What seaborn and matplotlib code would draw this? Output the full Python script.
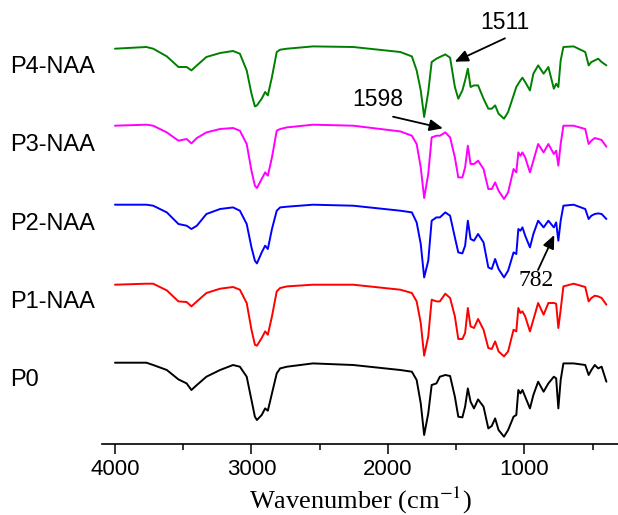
import matplotlib
matplotlib.use("Agg")
import matplotlib.pyplot as plt
import pandas as pd
import seaborn as sns

# FTIR spectra (transmittance, a.u.) on a shared wavenumber grid (cm^-1)
wavenumber = [4000, 3770, 3720, 3620, 3535, 3475, 3440, 3400, 3330, 3230,
              3135, 3085, 3035, 3000, 2975, 2960, 2925, 2900, 2880, 2850,
              2815, 2790, 2740, 2550, 2255, 1910, 1825, 1790, 1760, 1735,
              1705, 1680, 1645, 1620, 1580, 1545, 1510, 1485, 1455, 1435,
              1415, 1395, 1370, 1340, 1300, 1265, 1240, 1215, 1190, 1150,
              1120, 1080, 1060, 1045, 1030, 1015, 995, 960, 935, 900,
              860, 825, 785, 768, 752, 735, 715, 640, 555, 530,
              510, 485, 460, 435, 400]

t_p0 = [100, 100, 97.7, 92.7, 83.3, 79.3, 72.7, 77.7, 86, 92.7,
        97.7, 96, 86, 62.7, 46, 42.7, 47.7, 54.3, 52, 69.3,
        89.3, 94.3, 96, 99.3, 97.7, 92.7, 91, 82.7, 59.3, 27.7,
        49.3, 77.7, 79.3, 86, 87.7, 86.7, 66, 46, 45.3, 56,
        74.3, 61, 54.3, 63.3, 56, 34.3, 36.7, 44.3, 32.7, 26,
        32.7, 46, 47.7, 72.7, 69.3, 72.7, 66, 54.3, 67.7, 81,
        71, 79.3, 86, 84.3, 54.3, 82.7, 99.3, 99.3, 97.7, 87.7,
        92.7, 97.7, 94.3, 96, 81]

t_p1 = [100, 101, 101, 94.3, 83.3, 82.7, 78.3, 83.3, 91.7, 96,
        97.7, 95, 81.7, 55, 40, 39, 46.7, 53.3, 50, 68.3,
        93.3, 96.7, 98.3, 100, 100, 95, 91.7, 83.3, 61.7, 29,
        48.3, 85, 83.3, 83.3, 91, 86.7, 68.3, 45.7, 45.7, 51.7,
        76.7, 58.3, 56.7, 65.7, 55, 36.7, 35.7, 43.3, 33.3, 28.3,
        33.3, 55, 53.3, 76.7, 71.7, 73.3, 68.3, 53.3, 65, 81.7,
        70, 81.7, 81.7, 81, 56.7, 75, 98.3, 101, 97.7, 83.3,
        86.7, 89, 88.3, 86.7, 80]

t_p2 = [100, 100, 99, 92.3, 80.7, 79, 75.7, 79, 90.7, 95.7,
        97.3, 94, 80.7, 57.3, 44, 41.3, 52.3, 59, 55.7, 75.7,
        94, 97.3, 98, 100, 99, 94, 92.3, 82.3, 60.7, 27.3,
        44, 84, 87.3, 87.3, 92.3, 89, 67.3, 52.3, 51.3, 59,
        84, 65.7, 64, 70.7, 62.3, 37.3, 35.7, 45.7, 35.7, 27.3,
        34, 52.3, 50.7, 75.7, 74, 77.3, 69, 57.3, 70.7, 84,
        77.3, 84, 77.3, 82.3, 64, 84, 99, 100, 95.7, 85.7,
        89, 90.7, 91.3, 90.7, 85.7]

t_p3 = [100, 101, 100, 93.3, 85, 86.7, 82.3, 87.7, 93.3, 96.7,
        97.7, 95, 81.7, 55, 40, 37.7, 46.7, 53.3, 50, 68.3,
        95, 96.7, 98.3, 101, 100, 94.3, 90, 81.7, 58.3, 27.7,
        51.7, 88.3, 90, 90, 93.3, 88.3, 68.3, 48.3, 48.3, 58.3,
        80, 61.7, 61.7, 65, 56.7, 36.7, 36.7, 43.3, 35, 26.7,
        33.3, 56.7, 53.3, 73.3, 70, 73.3, 68.3, 53.3, 65, 81.7,
        73.3, 81.7, 71.7, 75, 60, 81.7, 100, 100, 96.7, 81.7,
        85, 87.7, 86.7, 85.7, 79]

t_p4 = [100, 101.7, 100, 92.3, 81.7, 81.7, 78.3, 83.3, 91.7, 95.7,
        97.7, 95, 78.3, 55, 42.3, 43.3, 50, 56.7, 53.3, 71.7,
        96.7, 99, 100, 102.3, 101.7, 96.7, 92.3, 78.3, 58.3, 31.7,
        56.7, 86.7, 90, 91.7, 94.3, 91, 61.7, 50, 58.3, 68.3,
        80, 61.7, 63.3, 63.3, 50, 40, 40, 43.3, 35, 30,
        36.7, 53.3, 61.7, 65, 68.3, 71, 66.7, 58.3, 75, 83.3,
        75, 81.7, 60, 65, 61.7, 88.3, 101.7, 102.3, 96.7, 83.3,
        86.7, 88.3, 90, 86.7, 83.3]

samples = ["P0", "P1-NAA", "P2-NAA", "P3-NAA", "P4-NAA"]
spectra = [t_p0, t_p1, t_p2, t_p3, t_p4]
colors = ["#000000", "#ff0000", "#0000ff", "#ff00ff", "#008000"]
stack_offsets = [0, 78, 158, 237, 314]

frames = []
for name, t, off in zip(samples, spectra, stack_offsets):
    frames.append(pd.DataFrame({"wavenumber": wavenumber, "T": t,
                                "sample": name, "shifted": [v + off for v in t]}))
df = pd.concat(frames, ignore_index=True)

sns.set_theme(style="ticks")
plt.rcParams["font.family"] = ["Liberation Sans", "DejaVu Sans"]
plt.rcParams["mathtext.fontset"] = "stix"
plt.rcParams["text.color"] = "black"

W, H = 618, 515
fig = plt.figure(figsize=(W / 100, H / 100), dpi=100)
ax = fig.add_axes([102 / W, 71 / H, 516 / W, 444 / H])

sns.lineplot(data=df, x="wavenumber", y="shifted", hue="sample",
             palette=dict(zip(samples, colors)), estimator=None, sort=False,
             linewidth=1.4, legend=False, ax=ax)

ax.set_xlim(4095, 315)
ax.set_ylim(18.7, 462.7)
for side in ("left", "top", "right"):
    ax.spines[side].set_visible(False)
ax.spines["bottom"].set_linewidth(1.2)
ax.spines["bottom"].set_color("black")
ax.set_yticks([])
ax.set_ylabel("")
ax.set_xticks([4000, 3000, 2000, 1000])
ax.set_xticks([3500, 2500, 1500, 500], minor=True)
ax.tick_params(axis="x", which="major", length=7.5, width=1.1, direction="out",
               labelsize=16, pad=3, colors="black")
ax.tick_params(axis="x", which="minor", length=4, width=1.1, direction="out",
               colors="black")
ax.set_xlabel("Wavenumber (cm$^{-1}$)", fontsize=19, family="Liberation Serif",
              labelpad=4, color="black")

# sample names next to each trace
label_y = [380.5, 302.5, 224.5, 145.5, 67.5]
for name, yy in zip(samples, label_y):
    fig.text(10 / W, 1 - yy / H, name, fontsize=17, va="center", ha="left",
             color="black")

arrow = dict(arrowstyle="-|>,head_length=0.8,head_width=0.35", color="black",
             lw=1.3, shrinkA=0, shrinkB=0, mutation_scale=10)

# band assignments
ax.annotate("", xy=(1511, 401), xytext=(1143, 424.4), arrowprops=arrow)
ax.text(1143, 440.2, "1511", fontsize=16.5, ha="center", va="center",
        color="black")

ax.annotate("", xy=(1598, 334.4), xytext=(1963, 346), arrowprops=arrow)
ax.text(2073, 362.7, "1598", fontsize=16.5, ha="center", va="center",
        color="black")

ax.annotate("", xy=(782, 227.7), xytext=(901, 192.7), arrowprops=arrow)
ax.text(916, 181.7, "782", fontsize=17, ha="center", va="center",
        family="Liberation Serif", color="black")

fig.savefig("out.png", dpi=100, facecolor="white")
